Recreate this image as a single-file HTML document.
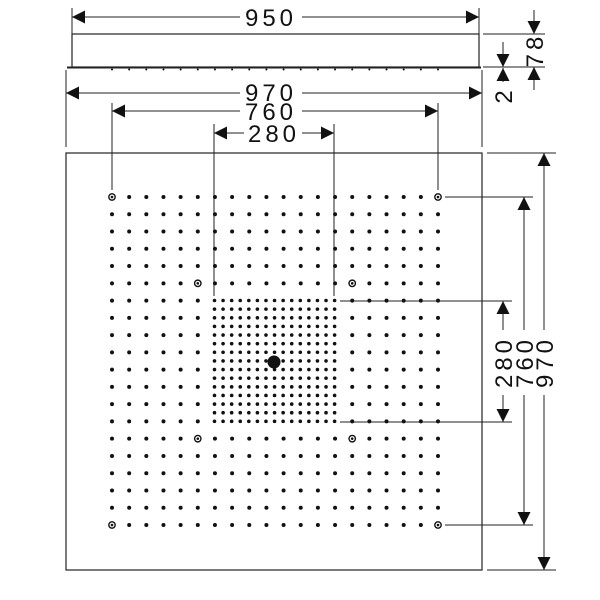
<!DOCTYPE html>
<html><head><style>html,body{margin:0;padding:0;background:#fff}svg{display:block}text{font-family:"Liberation Sans",sans-serif;font-size:24px;fill:#111;letter-spacing:4px}</style></head>
<body>
<svg width="600" height="600" viewBox="0 0 600 600" xmlns="http://www.w3.org/2000/svg">
<defs>
<marker id="a" viewBox="0 0 10 10" refX="10" refY="5" markerWidth="15" markerHeight="13" markerUnits="userSpaceOnUse" orient="auto-start-reverse"><path d="M0,0L10,5L0,10z" fill="#111"/></marker>
</defs>
<g stroke="#222" stroke-width="1" fill="none">
<rect x="72" y="34" width="407" height="33" stroke-width="1.2"/>
<line x1="67" y1="67.5" x2="481" y2="67.5" stroke-width="2"/>
<rect x="66" y="153" width="416" height="417" stroke-width="1.2"/>
<line x1="72" y1="8" x2="72" y2="34"/><line x1="479" y1="8" x2="479" y2="34"/>
<line x1="66" y1="70" x2="66" y2="147"/><line x1="482" y1="70" x2="482" y2="147"/>
<line x1="112" y1="103" x2="112" y2="190"/><line x1="438" y1="103" x2="438" y2="190"/>
<line x1="214" y1="124" x2="214" y2="296"/><line x1="334" y1="124" x2="334" y2="296"/>
<line x1="483" y1="34" x2="545" y2="34"/><line x1="483" y1="67" x2="545" y2="67"/>
<line x1="487" y1="153" x2="556" y2="153"/><line x1="487" y1="570" x2="556" y2="570"/>
<line x1="445" y1="197" x2="533" y2="197"/><line x1="445" y1="525" x2="533" y2="525"/>
<line x1="340" y1="301" x2="512" y2="301"/><line x1="340" y1="422" x2="512" y2="422"/>
<line x1="72" y1="17" x2="240" y2="17" marker-start="url(#a)"/><line x1="302" y1="17" x2="479" y2="17" marker-end="url(#a)"/>
<line x1="66" y1="93" x2="240" y2="93" marker-start="url(#a)"/><line x1="302" y1="93" x2="482" y2="93" marker-end="url(#a)"/>
<line x1="112" y1="111" x2="240" y2="111" marker-start="url(#a)"/><line x1="302" y1="111" x2="438" y2="111" marker-end="url(#a)"/>
<line x1="214" y1="133" x2="244" y2="133" marker-start="url(#a)"/><line x1="302" y1="133" x2="334" y2="133" marker-end="url(#a)"/>
<line x1="544" y1="153" x2="544" y2="330" marker-start="url(#a)"/><line x1="544" y1="395" x2="544" y2="570" marker-end="url(#a)"/>
<line x1="524" y1="197" x2="524" y2="330" marker-start="url(#a)"/><line x1="524" y1="395" x2="524" y2="525" marker-end="url(#a)"/>
<line x1="503" y1="301" x2="503" y2="330" marker-start="url(#a)"/><line x1="503" y1="395" x2="503" y2="422" marker-end="url(#a)"/>
<line x1="534" y1="10" x2="534" y2="34" marker-end="url(#a)"/><line x1="534" y1="90" x2="534" y2="67" marker-end="url(#a)"/>
<line x1="503" y1="42" x2="503" y2="67" marker-end="url(#a)"/><line x1="503" y1="82" x2="503" y2="68" marker-end="url(#a)"/>
</g>
<g fill="#111"><g id="dots"></g></g>
<rect x="180" y="30" width="60" height="3" fill="#fff"/>
<text x="271" y="26" text-anchor="middle">950</text>
<text x="271" y="101" text-anchor="middle">970</text>
<text x="271" y="120" text-anchor="middle">760</text>
<text x="274" y="142" text-anchor="middle">280</text>
<text transform="translate(512,362) rotate(-90)" text-anchor="middle">280</text>
<text transform="translate(533,362) rotate(-90)" text-anchor="middle">760</text>
<text transform="translate(553,362) rotate(-90)" text-anchor="middle">970</text>
<text transform="translate(543,50) rotate(-90)" text-anchor="middle">78</text>
<text transform="translate(512,95) rotate(-90)" text-anchor="middle">2</text>
<script>
(function(){
var ns="http://www.w3.org/2000/svg",g=document.getElementById("dots");
function c(x,y,r,ring){var e=document.createElementNS(ns,"circle");e.setAttribute("cx",x);e.setAttribute("cy",y);e.setAttribute("r",r);if(ring){e.setAttribute("fill","none");e.setAttribute("stroke","#111");e.setAttribute("stroke-width","1.4");}g.appendChild(e);if(ring){var d=document.createElementNS(ns,"circle");d.setAttribute("cx",x);d.setAttribute("cy",y);d.setAttribute("r",1.3);g.appendChild(d);}}
var sx=(438-112)/19,sy=(525-197)/19;
var rings={"0,0":1,"19,0":1,"0,19":1,"19,19":1,"5,5":1,"14,5":1,"5,14":1,"14,14":1};
for(var i=0;i<20;i++)for(var j=0;j<20;j++){
 if(i>=6&&i<=13&&j>=6&&j<=13)continue;
 var x=112+i*sx,y=197+j*sy;
 if(rings[i+","+j])c(x,y,3.2,1);else c(x,y,2);
}
for(var i=0;i<15;i++)for(var j=0;j<15;j++){
 c(214.5+i*sx/2,300.5+j*sy/2,1.8);
}
c(274,362,6.5);
for(var k=0;k<20;k++){c(112+k*sx,69.5,1);}
})();
</script>
</svg>
</body></html>
